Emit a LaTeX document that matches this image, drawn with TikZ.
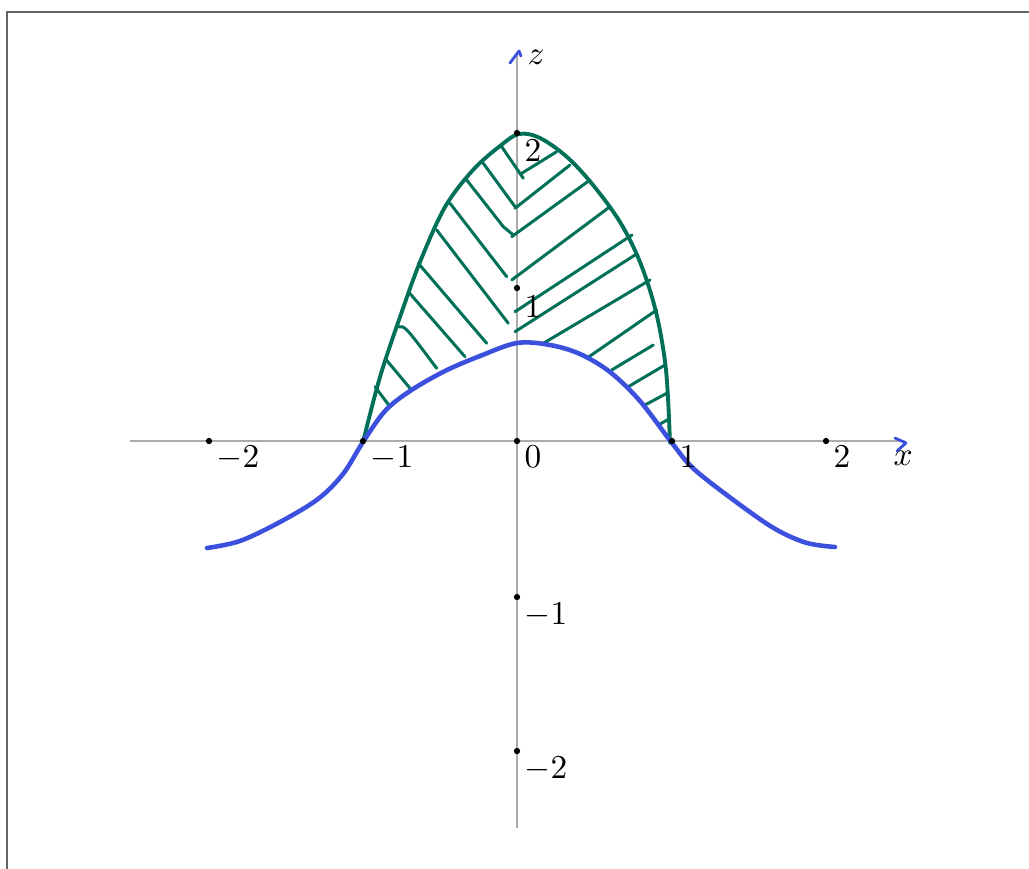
\documentclass[tikz,border=0pt]{standalone}
\begin{document}
\begin{tikzpicture}[x=0.02cm,y=-0.02cm,
  axisline/.style={draw=black!33,line width=0.7pt},
  frameline/.style={draw=black!60,line width=1.3pt},
  bluecurve/.style={draw=curveblue,line width=2.6pt,line cap=round,line join=round},
  greencurve/.style={draw=curvegreen,line width=2.2pt,line cap=round,line join=round},
  hatch/.style={draw=curvegreen,line width=1.7pt,line cap=round},
  tickdot/.style={fill=black,circle,inner sep=0pt,minimum size=3.6pt},
  lbl/.style={anchor=north west,inner sep=0pt,scale=1.9},
  arrowtip/.style={draw=curveblue,line width=1.6pt,line cap=round,line join=round}]
\definecolor{curveblue}{RGB}{60,80,222}
\definecolor{curvegreen}{RGB}{0,112,88}
\useasboundingbox (0,0) rectangle (1029,869);
% frame
\coordinate (fTL) at (7,12);
\coordinate (fTR) at (1029,12);
\coordinate (fBL) at (7,869);
\draw[frameline] (fBL) -- (fTL) -- (fTR);
% axes
\coordinate (xL) at (130,441);
\coordinate (xR) at (905,441);
\coordinate (zB) at (517,828);
\coordinate (zT) at (517,54);
\draw[axisline] (xL) -- (xR);
\draw[axisline] (zB) -- (zT);
% axis tips
\draw[arrowtip] (895,438) -- (906,443) -- (897,451);
\draw[arrowtip] (510,63) -- (519,51) -- (521,56);
\node[anchor=north west,inner sep=0pt,scale=1.9] (xlab) at (893,450) {$x$};
\node[anchor=west,inner sep=0pt,scale=1.9] (zlab) at (527,57) {$z$};
% hatch lines left
\draw[hatch] (501.7,146.7) -- (523.3,178.3);
\draw[hatch] (483.3,163.3) -- (515,206.7);
\draw[hatch] (466.7,180) -- (503.3,226.7) -- (513.3,235);
\draw[hatch] (450,203.3) -- (506.7,276.7);
\draw[hatch] (436.7,230) -- (508.3,323.3);
\draw[hatch] (418.3,263.3) -- (486.7,343.3);
\draw[hatch] (408.3,291.7) -- (465,356.7);
\draw[hatch] (398.3,326.7) .. controls (405,326) .. (436.7,368.3);
\draw[hatch] (385,358.3) -- (410,388.3);
\draw[hatch] (375,386.7) -- (390,406.7);
% hatch lines right
\draw[hatch] (521.7,173.3) -- (556.7,151.7);
\draw[hatch] (515,208.3) -- (570,165);
\draw[hatch] (511.7,236.7) -- (590,180);
\draw[hatch] (511.7,280) -- (610,206.7);
\draw[hatch] (515,311.7) -- (632,235);
\draw[hatch] (515,331.7) -- (635,255);
\draw[hatch] (543.3,343.3) -- (650,280);
\draw[hatch] (586.7,358.3) -- (656.7,310);
\draw[hatch] (611.7,370) -- (653.3,345);
\draw[hatch] (628.3,386.7) -- (665,365);
\draw[hatch] (645,405) -- (666.7,393.3);
\draw[hatch] (658.3,425) -- (669,419);
% green parabola
\draw[greencurve] plot[smooth,tension=0.55] coordinates {(363,442) (380,377) (400,317) (420,262) (445,207) (473,170) (500,146) (519,134) (540,138) (567,157) (593,185) (620,222) (640,262) (656,312) (666,370) (670,443)};
% blue curve
\draw[bluecurve] plot[smooth,tension=0.55] coordinates {(207,548) (240,541) (280,522) (318,499) (343,474) (363,442) (385,411) (410,391) (445,371) (480,356) (517,343) (550,345) (580,354) (610,372) (640,401) (672,443) (695,470) (743,507) (777,530) (807,543) (835,547)};
% tick dots
\node[tickdot] (xm2) at (209,441) {};
\node[tickdot] (xm1) at (363,441) {};
\node[tickdot] (o) at (517,441) {};
\node[tickdot] (xp1) at (672,441) {};
\node[tickdot] (xp2) at (826,441) {};
\node[tickdot] (zp1) at (517,288) {};
\node[tickdot] (zp2) at (517,133) {};
\node[tickdot] (zm1) at (517,597) {};
\node[tickdot] (zm2) at (517,751) {};
% labels
\node[lbl] (lxm2) at (216,445) {$-2$};
\node[lbl] (lxm1) at (370,445) {$-1$};
\node[lbl] (lo) at (524,445) {$0$};
\node[lbl] (lxp1) at (679,445) {$1$};
\node[lbl] (lxp2) at (833,445) {$2$};
\node[lbl] (lzp1) at (524,295) {$1$};
\node[lbl] (lzp2) at (524,139) {$2$};
\node[lbl] (lzm1) at (524,602) {$-1$};
\node[lbl] (lzm2) at (524,756) {$-2$};
\end{tikzpicture}
\end{document}
